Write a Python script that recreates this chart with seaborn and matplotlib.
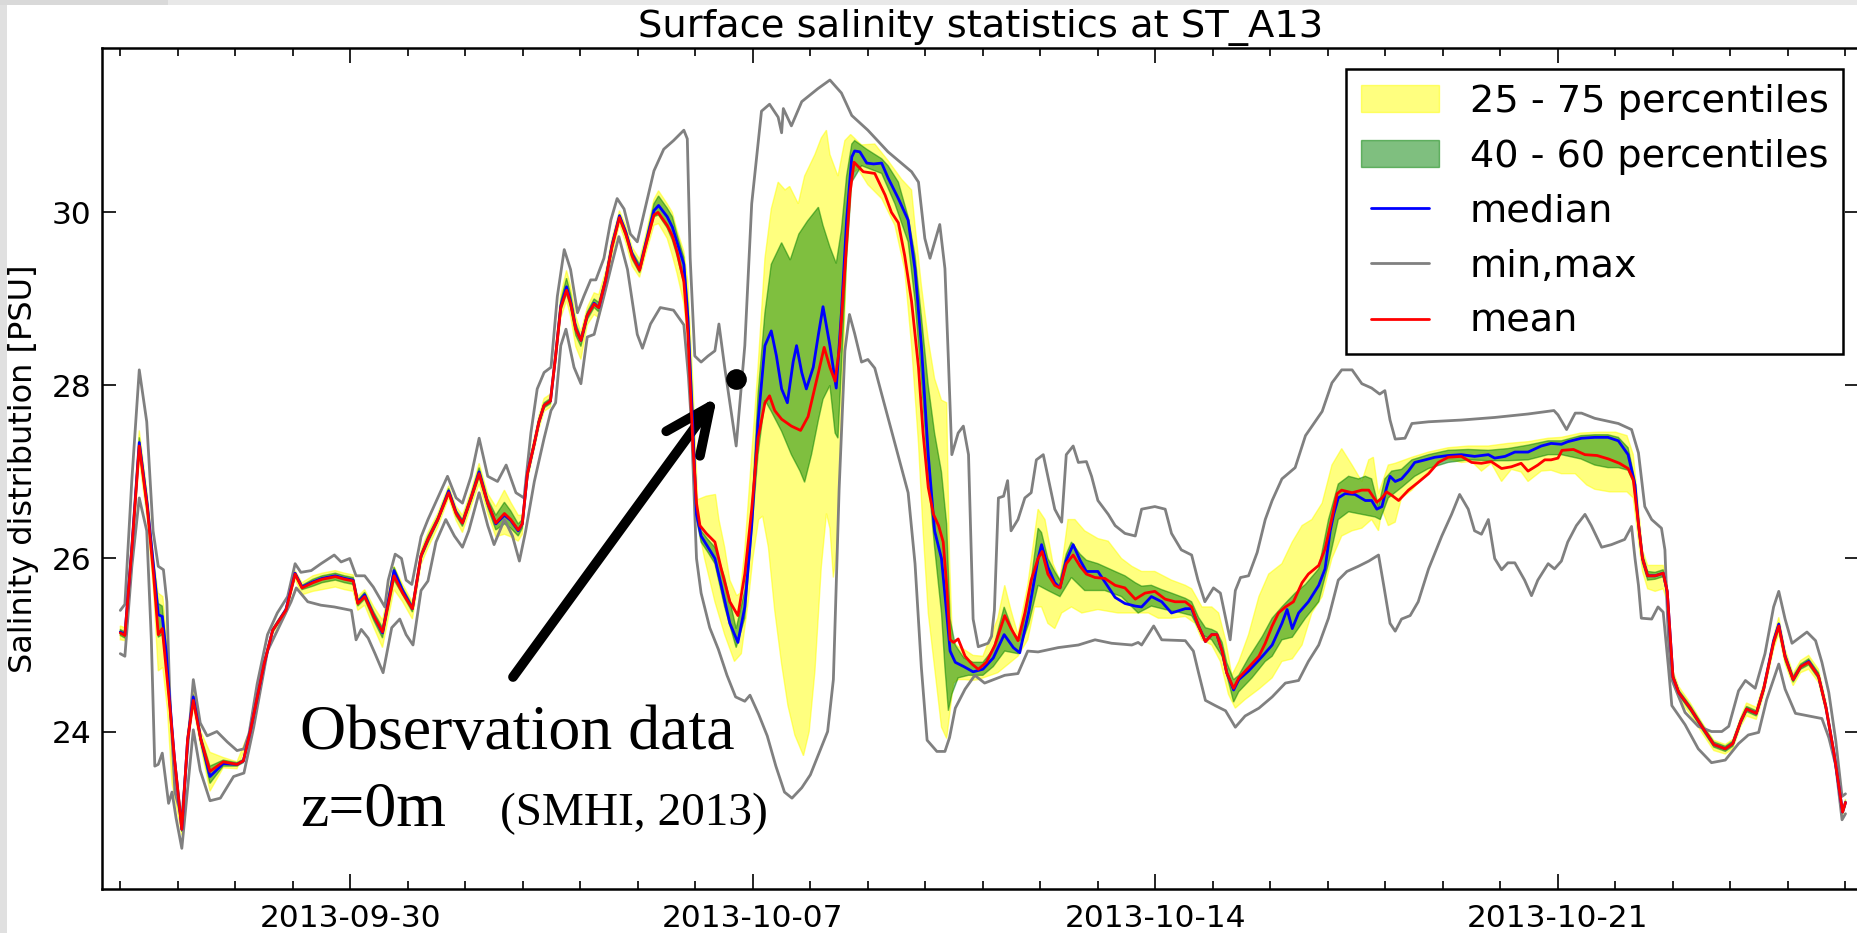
import numpy as np
import pandas as pd
import matplotlib
matplotlib.use("Agg")
import matplotlib.pyplot as plt
import matplotlib.dates as mdates
from matplotlib.patches import Polygon, Patch, Rectangle
from matplotlib.lines import Line2D
from matplotlib.legend_handler import HandlerLine2D
import seaborn as sns

# ---------------- data (time in days since 2013-09-26 00:00, salinity in PSU) -------------
START = "2013-09-26"
major_tick_dates = ["2013-09-30", "2013-10-07", "2013-10-14", "2013-10-21"]
y_ticks = [24, 26, 28, 30]

max_curve = [
(0.00,25.40),(0.08,25.47),(0.20,26.90),(0.33,28.18),(0.46,27.58),(0.57,26.32),(0.66,25.91),(0.75,25.87),(0.81,25.50),(0.86,24.43),(0.95,23.30),(1.07,23.00),(1.27,24.60),(1.39,24.10),(1.51,23.95),(1.68,24.00),(1.86,23.88),(2.03,23.78),(2.15,23.80),(2.24,23.98),(2.38,24.55),(2.56,25.12),(2.73,25.37),(2.91,25.56),(3.04,25.94),(3.14,25.84),(3.32,25.86),(3.49,25.94),(3.72,26.04),(3.84,25.96),(3.99,26.00),(4.10,25.80),(4.25,25.80),(4.40,25.67),(4.60,25.44),(4.66,25.75),(4.78,26.05),(4.89,26.00),(4.97,25.75),(5.07,25.70),(5.23,26.25),(5.35,26.45),(5.52,26.70),(5.69,26.95),(5.84,26.70),(5.95,26.64),(6.10,26.95),(6.24,27.39),(6.39,26.95),(6.56,26.89),(6.71,27.08),(6.88,26.76),(7.02,26.70),(7.14,27.45),(7.25,27.96),(7.37,28.15),(7.49,28.21),(7.60,29.03),(7.72,29.57),(7.83,29.34),(7.95,28.84),(8.06,29.03),(8.18,29.22),(8.27,29.22),(8.41,29.47),(8.53,29.91),(8.64,30.16),(8.76,30.04),(8.87,29.75),(8.99,29.66),(9.10,29.97),(9.28,30.48),(9.45,30.73),(9.62,30.83),(9.80,30.95),(9.86,30.85),(9.91,29.47),(9.99,28.34),(10.10,28.27),(10.22,28.34),(10.34,28.40),(10.41,28.71),(10.51,28.21),(10.71,27.30),(10.86,28.46),(10.98,30.10),(11.15,31.17),(11.29,31.25),(11.44,31.10),(11.50,30.92),(11.53,31.20),(11.67,31.00),(11.85,31.28),(12.13,31.43),(12.34,31.53),(12.54,31.38),(12.72,31.12),(13.00,30.95),(13.35,30.70),(13.76,30.47),(13.88,30.35),(13.99,29.70),(14.08,29.47),(14.25,29.86),(14.34,29.35),(14.40,28.30),(14.46,27.20),(14.57,27.45),(14.66,27.53),(14.75,27.20),(14.83,25.30),(14.92,24.98),(15.09,25.02),(15.15,25.10),(15.20,25.40),(15.27,26.70),(15.36,26.72),(15.43,26.90),(15.49,26.32),(15.61,26.45),(15.73,26.70),(15.84,26.76),(15.93,27.14),(16.05,27.20),(16.13,26.95),(16.25,26.57),(16.37,26.42),(16.45,27.20),(16.57,27.30),(16.66,27.11),(16.80,27.12),(16.89,26.95),(17.00,26.67),(17.18,26.51),(17.30,26.38),(17.47,26.29),(17.65,26.26),(17.76,26.57),(17.99,26.60),(18.17,26.57),(18.28,26.29),(18.45,26.10),(18.63,26.04),(18.74,25.75),(18.86,25.50),(19.01,25.66),(19.13,25.60),(19.24,25.25),(19.30,25.06),(19.39,25.63),(19.48,25.78),(19.62,25.80),(19.77,26.07),(19.91,26.45),(20.03,26.67),(20.20,26.92),(20.43,27.05),(20.61,27.42),(20.90,27.70),(21.07,28.03),(21.24,28.18),(21.42,28.18),(21.59,28.02),(21.76,27.97),(21.90,27.90),(21.99,27.94),(22.08,27.60),(22.17,27.38),(22.34,27.39),(22.46,27.56),(22.75,27.58),(23.32,27.60),(23.90,27.63),(24.48,27.67),(24.93,27.71),(25.00,27.66),(25.15,27.49),(25.30,27.68),(25.41,27.68),(25.64,27.62),(26.05,27.56),(26.28,27.49),(26.40,27.22),(26.51,26.60),(26.63,26.45),(26.80,26.35),(26.86,26.10),(26.92,25.06),(26.98,24.60),(27.21,24.22),(27.44,24.06),(27.67,24.00),(27.85,24.00),(27.97,24.06),(28.14,24.47),(28.26,24.59),(28.43,24.50),(28.60,24.90),(28.75,25.44),(28.84,25.62),(28.95,25.30),(29.07,25.02),(29.19,25.08),(29.33,25.15),(29.48,25.05),(29.59,24.80),(29.71,24.45),(29.83,23.90),(29.94,23.25),(30.00,23.28)]

min_curve = [
(0.00,24.90),(0.08,24.87),(0.20,25.90),(0.33,26.70),(0.46,26.32),(0.54,25.06),(0.60,23.60),(0.66,23.62),(0.73,23.75),(0.84,23.17),(0.90,23.30),(0.97,23.00),(1.07,22.65),(1.27,24.02),(1.39,23.55),(1.56,23.20),(1.74,23.23),(1.97,23.48),(2.15,23.52),(2.32,24.05),(2.56,24.93),(2.79,25.25),(2.97,25.50),(3.06,25.66),(3.26,25.50),(3.49,25.46),(3.72,25.44),(4.02,25.40),(4.10,25.06),(4.19,25.18),(4.31,25.08),(4.43,24.90),(4.57,24.68),(4.72,25.20),(4.86,25.30),(4.97,25.12),(5.09,25.00),(5.23,25.63),(5.35,25.74),(5.49,26.19),(5.66,26.45),(5.81,26.26),(5.95,26.13),(6.06,26.32),(6.24,26.76),(6.39,26.38),(6.50,26.16),(6.68,26.45),(6.82,26.26),(6.94,25.97),(7.05,26.32),(7.20,26.89),(7.37,27.39),(7.49,27.71),(7.57,27.80),(7.66,28.46),(7.75,28.65),(7.89,28.21),(8.01,28.02),(8.12,28.56),(8.24,28.59),(8.41,29.03),(8.55,29.41),(8.67,29.72),(8.82,29.34),(8.99,28.59),(9.08,28.43),(9.22,28.71),(9.39,28.90),(9.62,28.87),(9.80,28.70),(9.88,28.10),(9.93,27.58),(10.02,26.00),(10.10,25.60),(10.25,25.20),(10.40,24.95),(10.55,24.65),(10.70,24.40),(10.86,24.35),(10.95,24.42),(11.10,24.20),(11.25,23.95),(11.40,23.60),(11.55,23.30),(11.68,23.23),(11.85,23.35),(12.00,23.50),(12.15,23.75),(12.30,24.00),(12.40,24.60),(12.50,26.80),(12.60,28.40),(12.68,28.82),(12.77,28.60),(12.89,28.27),(13.00,28.30),(13.12,28.20),(13.24,27.90),(13.47,27.33),(13.70,26.76),(13.82,25.94),(13.93,24.74),(14.03,23.90),(14.20,23.77),(14.34,23.77),(14.42,23.93),(14.52,24.27),(14.69,24.49),(14.86,24.65),(15.03,24.56),(15.38,24.65),(15.61,24.67),(15.78,24.93),(15.96,24.92),(16.31,24.97),(16.66,25.00),(16.95,25.06),(17.24,25.02),(17.59,25.00),(17.70,25.03),(17.76,25.00),(17.97,25.22),(18.11,25.06),(18.52,25.05),(18.66,24.93),(18.75,24.68),(18.87,24.36),(19.04,24.30),(19.22,24.24),(19.39,24.05),(19.56,24.18),(19.80,24.27),(20.03,24.40),(20.26,24.56),(20.49,24.59),(20.66,24.81),(20.84,25.00),(21.01,25.31),(21.18,25.75),(21.33,25.85),(21.53,25.91),(21.71,25.97),(21.88,26.04),(21.97,25.69),(22.08,25.25),(22.17,25.16),(22.28,25.30),(22.43,25.34),(22.57,25.50),(22.75,25.88),(22.98,26.26),(23.15,26.51),(23.29,26.74),(23.44,26.57),(23.55,26.32),(23.67,26.28),(23.79,26.45),(23.90,26.00),(24.02,25.87),(24.13,25.95),(24.25,25.95),(24.42,25.75),(24.54,25.57),(24.65,25.75),(24.83,25.94),(24.94,25.88),(25.06,25.97),(25.17,26.19),(25.32,26.38),(25.47,26.51),(25.58,26.38),(25.76,26.13),(25.93,26.16),(26.16,26.22),(26.28,26.37),(26.34,26.00),(26.40,25.69),(26.45,25.31),(26.63,25.30),(26.74,25.44),(26.83,25.38),(26.92,24.75),(26.98,24.30),(27.21,24.08),(27.44,23.80),(27.67,23.64),(27.91,23.67),(28.14,23.86),(28.31,23.96),(28.49,23.99),(28.63,24.37),(28.84,24.78),(28.95,24.49),(29.13,24.21),(29.36,24.18),(29.59,24.15),(29.71,23.93),(29.83,23.61),(29.94,22.98),(30.00,23.05)]

mean_curve = [
(0.00,25.14),(0.08,25.11),(0.20,26.10),(0.33,27.30),(0.47,26.58),(0.58,25.80),(0.66,25.12),(0.73,25.19),(0.86,24.30),(0.94,23.70),(1.07,22.87),(1.17,23.90),(1.27,24.36),(1.40,23.91),(1.56,23.54),(1.79,23.65),(2.03,23.62),(2.14,23.66),(2.26,24.00),(2.50,24.78),(2.65,25.17),(2.88,25.40),(3.04,25.82),(3.16,25.66),(3.35,25.72),(3.51,25.76),(3.74,25.79),(3.90,25.76),(4.05,25.74),(4.13,25.48),(4.25,25.56),(4.41,25.33),(4.56,25.15),(4.76,25.80),(4.91,25.60),(5.08,25.42),(5.23,26.03),(5.35,26.22),(5.52,26.45),(5.71,26.76),(5.84,26.52),(5.95,26.41),(6.10,26.70),(6.24,26.98),(6.39,26.64),(6.53,26.41),(6.68,26.52),(6.79,26.45),(6.92,26.33),(6.99,26.40),(7.08,26.98),(7.20,27.33),(7.28,27.58),(7.37,27.77),(7.48,27.82),(7.57,28.34),(7.66,28.90),(7.76,29.10),(7.83,28.95),(7.92,28.65),(8.01,28.52),(8.12,28.81),(8.24,28.94),(8.32,28.90),(8.44,29.22),(8.55,29.60),(8.68,29.94),(8.79,29.75),(8.90,29.50),(9.03,29.33),(9.13,29.60),(9.28,29.97),(9.35,30.00),(9.51,29.85),(9.60,29.73),(9.68,29.55),(9.80,29.20),(9.87,28.60),(9.96,27.27),(10.02,26.64),(10.08,26.38),(10.19,26.29),(10.34,26.19),(10.45,25.88),(10.60,25.50),(10.74,25.34),(10.86,25.82),(10.98,26.57),(11.09,27.39),(11.21,27.80),(11.29,27.88),(11.38,27.71),(11.50,27.61),(11.67,27.53),(11.83,27.48),(11.96,27.64),(12.14,28.15),(12.24,28.44),(12.34,28.21),(12.43,28.05),(12.51,28.46),(12.60,29.34),(12.69,30.23),(12.76,30.58),(12.92,30.47),(13.12,30.45),(13.30,30.20),(13.41,30.00),(13.53,29.88),(13.64,29.50),(13.76,28.97),(13.88,28.21),(13.96,27.45),(14.05,26.82),(14.14,26.51),(14.23,26.38),(14.31,26.19),(14.37,25.69),(14.43,25.06),(14.49,25.03),(14.57,25.07),(14.69,24.87),(14.81,24.78),(14.92,24.72),(15.06,24.80),(15.21,25.00),(15.38,25.34),(15.49,25.19),(15.61,25.05),(15.73,25.37),(15.84,25.75),(15.96,26.00),(16.03,26.08),(16.13,25.82),(16.25,25.69),(16.34,25.66),(16.45,25.94),(16.57,26.04),(16.69,25.91),(16.80,25.82),(16.95,25.78),(17.12,25.77),(17.30,25.69),(17.47,25.66),(17.65,25.53),(17.82,25.60),(17.99,25.62),(18.17,25.53),(18.34,25.50),(18.52,25.50),(18.63,25.44),(18.75,25.22),(18.87,25.04),(18.98,25.12),(19.07,25.12),(19.16,24.93),(19.24,24.68),(19.36,24.50),(19.45,24.62),(19.62,24.74),(19.80,24.87),(19.91,25.02),(20.03,25.22),(20.14,25.37),(20.26,25.44),(20.40,25.50),(20.55,25.72),(20.66,25.82),(20.84,25.92),(20.95,26.11),(21.07,26.47),(21.16,26.75),(21.24,26.79),(21.42,26.76),(21.59,26.79),(21.71,26.79),(21.85,26.65),(21.94,26.70),(22.02,26.77),(22.11,26.73),(22.23,26.67),(22.40,26.79),(22.57,26.88),(22.75,26.98),(22.92,27.11),(23.09,27.17),(23.32,27.18),(23.50,27.11),(23.67,27.10),(23.84,27.12),(24.02,27.04),(24.19,27.06),(24.36,27.10),(24.48,27.01),(24.65,27.08),(24.77,27.14),(24.88,27.14),(25.00,27.16),(25.07,27.25),(25.27,27.26),(25.47,27.20),(25.68,27.19),(25.88,27.15),(26.07,27.10),(26.22,27.04),(26.31,26.91),(26.40,26.40),(26.47,26.00),(26.56,25.80),(26.69,25.80),(26.83,25.83),(26.90,25.62),(27.00,24.63),(27.10,24.45),(27.30,24.27),(27.51,24.05),(27.71,23.85),(27.91,23.80),(28.04,23.86),(28.18,24.12),(28.28,24.26),(28.45,24.21),(28.58,24.50),(28.75,25.03),(28.84,25.22),(28.95,24.86),(29.09,24.60),(29.22,24.75),(29.36,24.80),(29.53,24.64),(29.66,24.28),(29.80,23.75),(29.90,23.30),(29.95,23.07),(30.00,23.18)]

median_curve = [
(0.00,25.15),(0.08,25.12),(0.20,26.12),(0.33,27.34),(0.47,26.62),(0.58,25.90),(0.66,25.35),(0.73,25.33),(0.80,24.90),(0.86,24.35),(0.94,23.70),(1.07,22.87),(1.17,23.90),(1.27,24.40),(1.40,23.91),(1.56,23.48),(1.79,23.63),(2.03,23.62),(2.14,23.66),(2.26,24.00),(2.50,24.78),(2.65,25.17),(2.88,25.41),(3.04,25.83),(3.16,25.67),(3.35,25.73),(3.51,25.77),(3.74,25.80),(3.90,25.77),(4.05,25.75),(4.13,25.49),(4.25,25.58),(4.41,25.33),(4.56,25.14),(4.76,25.86),(4.91,25.63),(5.08,25.42),(5.23,26.03),(5.35,26.22),(5.52,26.45),(5.71,26.78),(5.84,26.53),(5.95,26.41),(6.10,26.70),(6.24,27.00),(6.39,26.64),(6.53,26.40),(6.68,26.50),(6.79,26.44),(6.92,26.32),(6.99,26.40),(7.08,26.98),(7.20,27.33),(7.28,27.58),(7.37,27.77),(7.48,27.82),(7.57,28.34),(7.66,28.92),(7.76,29.14),(7.83,28.97),(7.92,28.66),(8.01,28.52),(8.12,28.81),(8.24,28.95),(8.32,28.90),(8.44,29.22),(8.55,29.62),(8.68,29.96),(8.79,29.77),(8.90,29.52),(9.03,29.34),(9.13,29.62),(9.28,30.02),(9.36,30.08),(9.51,29.95),(9.60,29.83),(9.68,29.66),(9.80,29.40),(9.87,28.78),(9.96,27.45),(10.02,26.51),(10.10,26.26),(10.22,26.13),(10.34,26.00),(10.45,25.69),(10.60,25.25),(10.74,25.03),(10.86,25.44),(10.98,26.38),(11.09,27.58),(11.21,28.46),(11.32,28.63),(11.41,28.34),(11.50,27.96),(11.60,27.80),(11.70,28.27),(11.76,28.46),(11.85,28.15),(11.93,27.96),(12.05,28.21),(12.14,28.59),(12.22,28.91),(12.34,28.46),(12.45,27.97),(12.54,28.84),(12.63,29.91),(12.72,30.64),(12.77,30.71),(12.86,30.70),(12.98,30.57),(13.10,30.56),(13.24,30.57),(13.35,30.40),(13.53,30.16),(13.70,29.91),(13.82,29.34),(13.93,28.46),(14.05,27.20),(14.16,26.32),(14.28,26.00),(14.37,25.37),(14.43,24.93),(14.52,24.80),(14.67,24.75),(14.83,24.69),(15.00,24.72),(15.18,24.85),(15.37,25.12),(15.53,24.97),(15.64,24.91),(15.80,25.39),(15.96,26.00),(16.02,26.16),(16.13,25.90),(16.25,25.72),(16.34,25.66),(16.45,25.98),(16.57,26.16),(16.69,25.98),(16.80,25.85),(17.00,25.85),(17.30,25.55),(17.47,25.48),(17.65,25.45),(17.76,25.44),(17.93,25.56),(18.11,25.50),(18.28,25.37),(18.52,25.42),(18.63,25.42),(18.75,25.22),(18.87,25.04),(18.98,25.12),(19.07,25.12),(19.16,24.93),(19.24,24.68),(19.36,24.48),(19.45,24.60),(19.62,24.70),(19.86,24.87),(20.03,25.00),(20.20,25.25),(20.29,25.41),(20.38,25.19),(20.49,25.37),(20.66,25.50),(20.84,25.69),(20.95,25.88),(21.04,26.32),(21.10,26.51),(21.18,26.70),(21.30,26.75),(21.47,26.74),(21.65,26.67),(21.76,26.67),(21.85,26.57),(21.94,26.60),(22.02,26.82),(22.08,26.95),(22.17,26.89),(22.28,26.92),(22.40,27.01),(22.51,27.11),(22.69,27.14),(22.86,27.17),(23.09,27.19),(23.32,27.20),(23.55,27.18),(23.79,27.20),(23.90,27.16),(24.08,27.18),(24.25,27.23),(24.48,27.23),(24.71,27.30),(24.88,27.33),(25.06,27.32),(25.17,27.35),(25.41,27.39),(25.64,27.40),(25.87,27.40),(26.05,27.36),(26.22,27.20),(26.34,26.85),(26.40,26.40),(26.47,26.00),(26.56,25.80),(26.69,25.80),(26.83,25.83),(26.90,25.62),(27.00,24.63),(27.10,24.45),(27.30,24.27),(27.51,24.05),(27.71,23.85),(27.91,23.80),(28.04,23.86),(28.18,24.12),(28.28,24.26),(28.45,24.21),(28.58,24.50),(28.75,25.05),(28.84,25.24),(28.95,24.87),(29.09,24.60),(29.22,24.75),(29.36,24.81),(29.53,24.64),(29.66,24.28),(29.80,23.75),(29.90,23.30),(29.95,23.07),(30.00,23.18)]

p75_curve = [
(0.00,25.22),(0.08,25.20),(0.20,26.25),(0.33,27.48),(0.47,26.75),(0.58,26.00),(0.66,25.60),(0.74,25.56),(0.82,25.00),(0.90,24.00),(1.07,23.00),(1.17,24.00),(1.27,24.47),(1.40,24.00),(1.56,23.76),(1.79,23.70),(2.03,23.65),(2.26,24.03),(2.50,24.82),(2.65,25.20),(2.88,25.43),(3.04,25.86),(3.16,25.72),(3.35,25.80),(3.51,25.83),(3.74,25.86),(3.90,25.83),(4.05,25.81),(4.13,25.56),(4.25,25.64),(4.41,25.44),(4.56,25.29),(4.76,25.91),(4.91,25.70),(5.08,25.50),(5.23,26.10),(5.35,26.30),(5.52,26.52),(5.71,26.84),(5.84,26.60),(5.95,26.50),(6.10,26.78),(6.24,27.10),(6.39,26.75),(6.53,26.60),(6.68,26.79),(6.79,26.65),(6.92,26.50),(6.99,26.50),(7.08,27.05),(7.20,27.40),(7.28,27.65),(7.37,27.85),(7.48,27.90),(7.57,28.45),(7.66,29.05),(7.76,29.33),(7.83,29.15),(7.92,28.80),(8.01,28.62),(8.12,28.90),(8.24,29.07),(8.32,29.05),(8.44,29.32),(8.55,29.70),(8.68,30.02),(8.79,29.85),(8.90,29.60),(9.03,29.46),(9.13,29.72),(9.28,30.15),(9.36,30.25),(9.51,30.10),(9.60,30.00),(9.68,29.80),(9.80,29.55),(9.87,29.20),(9.96,28.00),(10.04,26.68),(10.19,26.72),(10.35,26.74),(10.41,26.45),(10.51,26.13),(10.60,25.75),(10.72,25.57),(10.78,25.60),(10.86,26.10),(10.98,27.20),(11.09,28.21),(11.21,29.47),(11.32,30.04),(11.44,30.35),(11.56,30.26),(11.64,30.30),(11.79,30.10),(11.90,30.42),(12.08,30.67),(12.19,30.86),(12.28,30.95),(12.34,30.67),(12.48,30.42),(12.60,30.83),(12.70,30.90),(12.89,30.78),(13.12,30.79),(13.35,30.60),(13.59,30.38),(13.76,30.26),(13.82,29.85),(13.93,29.16),(14.05,28.53),(14.16,28.08),(14.28,27.83),(14.37,27.80),(14.42,26.00),(14.47,25.05),(14.57,24.98),(14.67,24.95),(14.83,24.88),(15.00,24.87),(15.26,25.31),(15.38,25.69),(15.49,25.40),(15.61,25.12),(15.78,25.69),(15.96,26.57),(16.08,26.45),(16.22,25.94),(16.34,25.75),(16.48,26.45),(16.60,26.45),(16.77,26.32),(17.00,26.23),(17.18,26.20),(17.41,26.00),(17.59,25.91),(17.76,25.85),(17.99,25.85),(18.28,25.75),(18.52,25.69),(18.63,25.65),(18.81,25.44),(18.98,25.44),(19.10,25.37),(19.22,25.06),(19.33,24.65),(19.45,24.81),(19.62,25.12),(19.80,25.56),(19.97,25.82),(20.20,25.94),(20.38,26.19),(20.55,26.38),(20.72,26.45),(20.90,26.64),(21.07,27.08),(21.24,27.27),(21.42,27.08),(21.59,26.89),(21.71,27.14),(21.79,27.17),(21.88,26.75),(22.05,27.08),(22.17,27.10),(22.46,27.17),(22.75,27.23),(23.09,27.28),(23.44,27.30),(23.79,27.30),(24.13,27.33),(24.48,27.35),(24.83,27.39),(25.06,27.40),(25.40,27.45),(25.70,27.46),(26.00,27.46),(26.20,27.42),(26.31,27.20),(26.40,26.60),(26.47,26.10),(26.56,25.92),(26.69,25.92),(26.83,25.92),(26.90,25.70),(27.00,24.70),(27.10,24.52),(27.30,24.33),(27.51,24.10),(27.71,23.90),(27.91,23.85),(28.04,23.91),(28.18,24.17),(28.28,24.33),(28.45,24.28),(28.58,24.56),(28.75,25.10),(28.84,25.32),(28.95,24.95),(29.09,24.67),(29.22,24.82),(29.36,24.88),(29.53,24.72),(29.66,24.35),(29.80,23.80),(29.90,23.34),(29.95,23.10),(30.00,23.22)]

p25_curve = [
(0.00,25.06),(0.08,25.05),(0.20,25.95),(0.33,27.14),(0.47,26.45),(0.58,25.60),(0.66,24.70),(0.74,24.74),(0.82,24.25),(0.90,23.40),(1.07,22.80),(1.17,23.80),(1.27,24.28),(1.40,23.82),(1.56,23.31),(1.79,23.58),(2.03,23.57),(2.26,23.96),(2.50,24.74),(2.65,25.13),(2.88,25.36),(3.04,25.76),(3.16,25.58),(3.35,25.62),(3.51,25.64),(3.74,25.67),(3.90,25.64),(4.05,25.62),(4.13,25.40),(4.25,25.46),(4.41,25.20),(4.56,24.97),(4.76,25.64),(4.91,25.50),(5.08,25.30),(5.23,25.93),(5.35,26.12),(5.52,26.36),(5.71,26.70),(5.84,26.44),(5.95,26.30),(6.10,26.60),(6.24,26.86),(6.39,26.52),(6.53,26.25),(6.68,26.28),(6.79,26.25),(6.92,26.20),(6.99,26.28),(7.08,26.90),(7.20,27.26),(7.28,27.50),(7.37,27.70),(7.48,27.75),(7.57,28.24),(7.66,28.78),(7.76,28.98),(7.83,28.80),(7.92,28.45),(8.01,28.30),(8.12,28.70),(8.24,28.82),(8.32,28.78),(8.44,29.10),(8.55,29.50),(8.68,29.86),(8.79,29.65),(8.90,29.38),(9.03,29.25),(9.13,29.50),(9.28,29.85),(9.36,29.87),(9.51,29.70),(9.60,29.50),(9.68,29.30),(9.80,28.95),(9.87,28.50),(9.96,27.20),(10.04,26.40),(10.16,26.00),(10.34,25.50),(10.51,25.12),(10.68,24.81),(10.80,24.90),(10.92,25.50),(11.00,26.00),(11.10,26.45),(11.17,26.49),(11.27,26.13),(11.38,25.40),(11.50,24.78),(11.61,24.30),(11.73,23.96),(11.88,23.72),(11.98,24.00),(12.08,24.70),(12.19,25.90),(12.28,26.52),(12.34,26.35),(12.40,25.78),(12.46,26.10),(12.54,27.58),(12.63,29.47),(12.72,30.45),(12.83,30.50),(13.00,30.32),(13.24,30.16),(13.47,29.85),(13.64,29.34),(13.76,28.46),(13.88,27.33),(13.96,26.32),(14.05,25.37),(14.16,24.74),(14.28,24.05),(14.37,23.92),(14.43,24.24),(14.49,24.56),(14.57,24.60),(14.69,24.60),(14.81,24.59),(14.92,24.60),(15.26,24.68),(15.61,24.87),(15.78,25.06),(15.90,25.44),(16.02,25.44),(16.13,25.25),(16.25,25.19),(16.37,25.37),(16.54,25.44),(16.72,25.37),(17.00,25.41),(17.35,25.37),(17.65,25.37),(17.88,25.37),(18.05,25.31),(18.28,25.31),(18.52,25.33),(18.69,25.25),(18.81,25.06),(18.98,25.00),(19.13,24.81),(19.27,24.43),(19.39,24.27),(19.56,24.37),(19.80,24.49),(20.03,24.62),(20.20,24.81),(20.38,24.84),(20.55,25.00),(20.72,25.37),(20.90,25.56),(21.07,26.00),(21.24,26.26),(21.42,26.32),(21.59,26.35),(21.76,26.45),(21.88,26.32),(21.94,26.57),(22.05,26.38),(22.17,26.42),(22.28,26.70),(22.46,26.79),(22.63,26.92),(22.80,27.04),(22.98,27.14),(23.15,27.14),(23.32,27.11),(23.50,27.12),(23.67,27.01),(23.84,27.10),(24.02,26.89),(24.19,27.03),(24.36,27.00),(24.48,26.89),(24.71,27.01),(24.88,27.02),(25.06,26.98),(25.30,26.98),(25.50,26.85),(25.64,26.80),(25.90,26.77),(26.20,26.77),(26.31,26.70),(26.40,26.20),(26.47,25.85),(26.56,25.65),(26.69,25.62),(26.83,25.65),(26.90,25.50),(27.00,24.55),(27.10,24.38),(27.30,24.20),(27.51,23.98),(27.71,23.78),(27.91,23.74),(28.04,23.80),(28.18,24.06),(28.28,24.18),(28.45,24.14),(28.58,24.43),(28.75,24.95),(28.84,25.13),(28.95,24.78),(29.09,24.53),(29.22,24.68),(29.36,24.72),(29.53,24.57),(29.66,24.22),(29.80,23.70),(29.90,23.25),(29.95,23.03),(30.00,23.14)]

p60_curve = [
(0.00,25.18),(0.08,25.15),(0.20,26.17),(0.33,27.40),(0.47,26.67),(0.58,25.95),(0.66,25.48),(0.73,25.45),(0.80,24.97),(0.86,24.40),(0.94,23.75),(1.07,22.92),(1.17,23.94),(1.27,24.43),(1.40,23.95),(1.56,23.60),(1.79,23.67),(2.03,23.64),(2.14,23.68),(2.26,24.02),(2.50,24.80),(2.65,25.19),(2.88,25.42),(3.04,25.84),(3.16,25.69),(3.35,25.76),(3.51,25.80),(3.74,25.83),(3.90,25.80),(4.05,25.78),(4.13,25.52),(4.25,25.61),(4.41,25.38),(4.56,25.20),(4.76,25.90),(4.91,25.66),(5.08,25.46),(5.23,26.06),(5.35,26.26),(5.52,26.48),(5.71,26.81),(5.84,26.56),(5.95,26.45),(6.10,26.74),(6.24,27.05),(6.39,26.69),(6.53,26.50),(6.68,26.65),(6.79,26.55),(6.92,26.40),(6.99,26.45),(7.08,27.02),(7.20,27.36),(7.28,27.61),(7.37,27.80),(7.48,27.85),(7.57,28.38),(7.66,28.98),(7.76,29.24),(7.83,29.06),(7.92,28.72),(8.01,28.56),(8.12,28.85),(8.24,29.00),(8.32,28.96),(8.44,29.26),(8.55,29.65),(8.68,29.98),(8.79,29.80),(8.90,29.55),(9.03,29.40),(9.13,29.66),(9.28,30.10),(9.36,30.19),(9.51,30.05),(9.60,29.95),(9.68,29.75),(9.80,29.48),(9.87,28.95),(9.96,27.70),(10.02,26.60),(10.10,26.32),(10.22,26.22),(10.34,26.13),(10.51,25.78),(10.71,25.19),(10.86,25.63),(10.98,26.51),(11.09,27.90),(11.21,28.84),(11.32,29.40),(11.50,29.65),(11.65,29.45),(11.80,29.75),(11.95,29.90),(12.14,30.06),(12.22,29.85),(12.34,29.60),(12.45,29.41),(12.54,29.80),(12.63,30.42),(12.72,30.79),(12.77,30.83),(12.98,30.73),(13.24,30.62),(13.35,30.54),(13.53,30.35),(13.70,29.95),(13.82,29.50),(13.93,28.80),(14.05,28.00),(14.16,27.45),(14.28,27.00),(14.37,26.40),(14.43,25.30),(14.52,25.00),(14.67,24.85),(14.83,24.80),(15.00,24.80),(15.18,24.95),(15.37,25.44),(15.53,25.15),(15.64,25.05),(15.80,25.55),(15.96,26.35),(16.02,26.30),(16.13,26.00),(16.25,25.85),(16.34,25.75),(16.45,26.05),(16.54,26.19),(16.69,26.05),(16.80,25.98),(17.00,25.94),(17.30,25.85),(17.47,25.80),(17.65,25.72),(17.76,25.68),(17.93,25.69),(18.11,25.64),(18.28,25.60),(18.52,25.54),(18.63,25.50),(18.75,25.32),(18.87,25.20),(18.98,25.18),(19.07,25.15),(19.16,25.03),(19.24,24.80),(19.36,24.60),(19.45,24.65),(19.62,24.85),(19.86,25.10),(20.03,25.31),(20.20,25.44),(20.43,25.60),(20.61,25.70),(20.84,25.88),(21.01,26.45),(21.18,26.86),(21.36,26.95),(21.53,26.92),(21.65,26.95),(21.76,26.92),(21.88,26.60),(21.99,26.92),(22.11,27.01),(22.28,27.03),(22.46,27.14),(22.75,27.20),(23.09,27.25),(23.44,27.26),(23.79,27.25),(24.13,27.27),(24.48,27.31),(24.83,27.36),(25.06,27.36),(25.40,27.42),(25.64,27.43),(25.87,27.43),(26.05,27.40),(26.22,27.28),(26.34,26.90),(26.40,26.45),(26.47,26.05),(26.56,25.85),(26.69,25.84),(26.83,25.87),(26.90,25.66),(27.00,24.66),(27.10,24.48),(27.30,24.30),(27.51,24.08),(27.71,23.88),(27.91,23.83),(28.04,23.89),(28.18,24.15),(28.28,24.29),(28.45,24.24),(28.58,24.53),(28.75,25.06),(28.84,25.26),(28.95,24.90),(29.09,24.64),(29.22,24.78),(29.36,24.84),(29.53,24.68),(29.66,24.31),(29.80,23.78),(29.90,23.32),(29.95,23.09),(30.00,23.20)]

p40_curve = [
(0.00,25.11),(0.08,25.08),(0.20,26.07),(0.33,27.27),(0.47,26.55),(0.58,25.82),(0.66,25.09),(0.73,25.12),(0.80,24.80),(0.86,24.28),(0.94,23.65),(1.07,22.84),(1.17,23.86),(1.27,24.35),(1.40,23.87),(1.56,23.40),(1.79,23.60),(2.03,23.60),(2.14,23.64),(2.26,23.98),(2.50,24.76),(2.65,25.15),(2.88,25.39),(3.04,25.80),(3.16,25.64),(3.35,25.68),(3.51,25.72),(3.74,25.75),(3.90,25.72),(4.05,25.70),(4.13,25.45),(4.25,25.53),(4.41,25.28),(4.56,25.08),(4.76,25.75),(4.91,25.58),(5.08,25.38),(5.23,26.00),(5.35,26.18),(5.52,26.42),(5.71,26.74),(5.84,26.49),(5.95,26.37),(6.10,26.66),(6.24,26.94),(6.39,26.59),(6.53,26.33),(6.68,26.40),(6.79,26.35),(6.92,26.26),(6.99,26.35),(7.08,26.94),(7.20,27.30),(7.28,27.55),(7.37,27.74),(7.48,27.79),(7.57,28.30),(7.66,28.86),(7.76,29.06),(7.83,28.90),(7.92,28.58),(8.01,28.45),(8.12,28.76),(8.24,28.90),(8.32,28.85),(8.44,29.17),(8.55,29.57),(8.68,29.92),(8.79,29.72),(8.90,29.46),(9.03,29.30),(9.13,29.57),(9.28,29.95),(9.36,29.97),(9.51,29.82),(9.60,29.68),(9.68,29.50),(9.80,29.18),(9.87,28.65),(9.96,27.35),(10.02,26.45),(10.10,26.19),(10.22,26.07),(10.34,25.94),(10.51,25.44),(10.71,24.97),(10.86,25.31),(10.98,26.32),(11.09,27.20),(11.21,27.83),(11.32,27.70),(11.50,27.47),(11.67,27.20),(11.82,27.01),(11.90,26.88),(12.02,27.20),(12.14,27.60),(12.22,27.84),(12.34,28.00),(12.43,27.45),(12.48,27.39),(12.54,28.21),(12.63,29.47),(12.72,30.35),(12.89,30.54),(13.24,30.45),(13.47,30.10),(13.70,29.66),(13.82,28.97),(13.93,28.08),(14.05,26.95),(14.16,26.13),(14.28,25.37),(14.34,24.74),(14.40,24.24),(14.46,24.43),(14.57,24.62),(14.75,24.65),(15.00,24.65),(15.18,24.75),(15.38,24.93),(15.61,24.90),(15.80,25.25),(15.96,25.69),(16.13,25.63),(16.34,25.56),(16.54,25.78),(16.77,25.63),(17.12,25.63),(17.41,25.56),(17.70,25.37),(17.93,25.45),(18.17,25.41),(18.40,25.38),(18.63,25.34),(18.81,25.12),(18.98,25.06),(19.16,24.87),(19.36,24.34),(19.45,24.46),(19.68,24.62),(19.91,24.81),(20.03,24.87),(20.20,25.06),(20.38,25.09),(20.61,25.31),(20.84,25.50),(21.01,25.94),(21.18,26.45),(21.36,26.54),(21.59,26.51),(21.82,26.48),(21.91,26.45),(22.05,26.70),(22.28,26.82),(22.51,26.95),(22.75,27.04),(23.09,27.11),(23.44,27.14),(23.79,27.13),(24.13,27.13),(24.48,27.14),(24.83,27.20),(25.06,27.20),(25.40,27.15),(25.64,27.08),(25.87,27.05),(26.05,27.05),(26.22,27.02),(26.31,26.88),(26.40,26.35),(26.47,25.95),(26.56,25.75),(26.69,25.76),(26.83,25.79),(26.90,25.58),(27.00,24.60),(27.10,24.42),(27.30,24.24),(27.51,24.02),(27.71,23.82),(27.91,23.77),(28.04,23.83),(28.18,24.09),(28.28,24.23),(28.45,24.18),(28.58,24.47),(28.75,25.00),(28.84,25.18),(28.95,24.82),(29.09,24.57),(29.22,24.72),(29.36,24.77),(29.53,24.61),(29.66,24.25),(29.80,23.72),(29.90,23.28),(29.95,23.05),(30.00,23.16)]

obs_t = [10.70]      # observation (SMHI, 2013), z=0m
obs_v = [28.07]

# ---------------- helpers -----------------------------------------------------------------
base = pd.Timestamp(START)

def to_dates(t):
    return base + pd.to_timedelta(np.asarray(t, dtype=float), unit="D")

def split(curve):
    t, v = zip(*curve)
    return to_dates(t), np.asarray(v)

def band_polygon(lower, upper):
    tl, vl = split(lower)
    tu, vu = split(upper)
    xl = mdates.date2num(tl.to_pydatetime())
    xu = mdates.date2num(tu.to_pydatetime())
    xs = np.concatenate([xl, xu[::-1]])
    ys = np.concatenate([vl, vu[::-1]])
    return np.column_stack([xs, ys])


class ShortLineHandler(HandlerLine2D):
    """legend line handles a bit shorter than the patch handles (as in the original)"""
    def get_xdata(self, legend, xdescent, ydescent, width, height, fontsize):
        xd, xm = super().get_xdata(legend, xdescent, ydescent, width, height, fontsize)
        inset = 0.13 * width
        return np.array([-xdescent + inset, -xdescent + width - inset]), xm


# ---------------- style ---------------------------------------------------------------------
sns.set_theme(style="white")
plt.rcParams.update({
    "font.family": ["DejaVu Sans"],
    "text.color": "black", "axes.labelcolor": "black",
    "xtick.color": "black", "ytick.color": "black",
    "xtick.direction": "in", "ytick.direction": "in",
    "xtick.top": True, "ytick.right": True,
    "xtick.bottom": True, "ytick.left": True,
    "xtick.major.size": 11, "xtick.minor.size": 6,
    "ytick.major.size": 10, "ytick.minor.size": 5,
    "xtick.major.width": 1.2, "xtick.minor.width": 1.2,
    "ytick.major.width": 1.2,
    "xtick.major.pad": 11.0, "ytick.major.pad": 7.5,
    "axes.edgecolor": "black", "axes.linewidth": 1.8,
})

W, H = 1858, 933
fig = plt.figure(figsize=(W / 100, H / 100), dpi=100)
fig.patch.set_facecolor("white")
# light grey screenshot frame at top / left
fig.patches.append(Rectangle((0, 1 - 5 / H), 1, 5 / H, transform=fig.transFigure,
                             facecolor="#e8e8e8", edgecolor="none", zorder=-5))
fig.patches.append(Rectangle((0, 1 - 5 / H), 168 / W, 5 / H, transform=fig.transFigure,
                             facecolor="#d9d9d9", edgecolor="none", zorder=-4))
fig.patches.append(Rectangle((0, 0), 7 / W, 1, transform=fig.transFigure,
                             facecolor="#e0e0e0", edgecolor="none", zorder=-5))

ax_left, ax_right, ax_top, ax_bot = 102, 1859, 48, 889
ax = fig.add_axes([ax_left / W, 1 - ax_bot / H, (ax_right - ax_left) / W, (ax_bot - ax_top) / H])
ax.set_facecolor("white")

lw = 2.0
# lines (seaborn); these also set the date units of the x axis
for curve, col, z in [(median_curve, "#0000ff", 4), (min_curve, "#808080", 3),
                      (max_curve, "#808080", 3), (mean_curve, "#ff0000", 5)]:
    tt, vv = split(curve)
    sns.lineplot(x=tt, y=vv, ax=ax, color=col, lw=lw, sort=False, estimator=None,
                 zorder=z, legend=False)

# percentile bands
ax.add_patch(Polygon(band_polygon(p25_curve, p75_curve), closed=True, facecolor="yellow",
                     edgecolor="yellow", alpha=0.5, lw=1.0, zorder=1))
ax.add_patch(Polygon(band_polygon(p40_curve, p60_curve), closed=True, facecolor="green",
                     edgecolor="green", alpha=0.5, lw=1.0, zorder=2))

# observation point
sns.scatterplot(x=to_dates(obs_t), y=obs_v, ax=ax, color="black", s=190, edgecolor="black",
                zorder=6, legend=False)

# axes limits / ticks
ax.set_xlim(to_dates([-0.318])[0], to_dates([30.235])[0])
ax.set_ylim(22.18, 31.90)
ax.xaxis.set_major_locator(mdates.DayLocator(bymonthday=[30, 7, 14, 21]))
ax.xaxis.set_major_formatter(mdates.DateFormatter("%Y-%m-%d"))
ax.xaxis.set_minor_locator(mdates.DayLocator())
ax.set_yticks(y_ticks)
ax.tick_params(axis="both", which="major", labelsize=22.5)
ax.set_xlabel("")
ax.set_ylabel("Salinity distribution [PSU]", fontsize=23, labelpad=9)
ax.set_title("Surface salinity statistics at ST_A13", fontsize=27.7, pad=8)
for s in ax.spines.values():
    s.set_visible(True)
    s.set_color("black")
    s.set_linewidth(1.8)

# legend
handles = [Patch(facecolor="yellow", edgecolor="yellow", alpha=0.5),
           Patch(facecolor="green", edgecolor="green", alpha=0.5),
           Line2D([], [], color="#0000ff", lw=lw),
           Line2D([], [], color="#808080", lw=lw),
           Line2D([], [], color="#ff0000", lw=lw)]
labels = ["25 - 75 percentiles", "40 - 60 percentiles", "median", "min,max", "mean"]
leg = ax.legend(handles, labels, loc="upper right",
                bbox_to_anchor=(1843 / W, 1 - 69 / H), bbox_transform=fig.transFigure,
                borderaxespad=0.0, fontsize=27.5, frameon=True,
                fancybox=False, framealpha=1, edgecolor="black", borderpad=0.38,
                labelspacing=0.5, handlelength=2.05, handletextpad=0.8,
                handler_map={Line2D: ShortLineHandler()})
leg.get_frame().set_linewidth(1.8)
leg.set_zorder(10)

# annotation
ax.annotate("", xy=(717, H - 397), xycoords="figure pixels",
            xytext=(513, H - 677), textcoords="figure pixels",
            arrowprops=dict(arrowstyle="->,head_length=0.66,head_width=0.30",
                            lw=7, color="black", mutation_scale=50, shrinkA=0, shrinkB=0))
serif = ["Liberation Serif", "DejaVu Serif"]
fig.text(300 / W, 1 - 749 / H, "Observation data", fontsize=46, color="black",
         family=serif, ha="left", va="baseline")
fig.text(300 / W, 1 - 825 / H, "z=0m", fontsize=46, color="black",
         family=serif, ha="left", va="baseline")
fig.text(500 / W, 1 - 825 / H, "(SMHI, 2013)", fontsize=34, color="black",
         family=serif, ha="left", va="baseline")

fig.savefig("out.png", dpi=100, facecolor=fig.get_facecolor())
